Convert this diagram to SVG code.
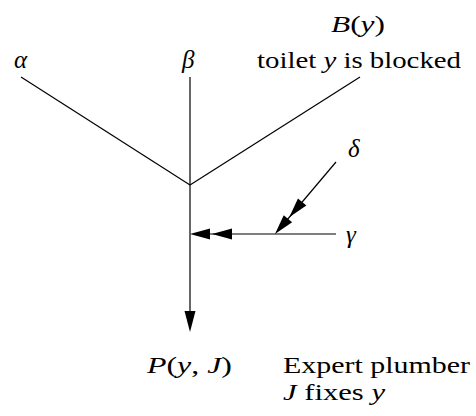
<svg xmlns="http://www.w3.org/2000/svg" width="476" height="416" viewBox="0 0 476 416">
<style>
text{font-family:"Liberation Serif","Times New Roman","DejaVu Serif",serif;font-size:24px;fill:#000}
.i{font-style:italic}
.g{font-size:25px}
.l{stroke:#000;stroke-width:1.2;fill:none}
.h{fill:#000;stroke:none}
</style>
<rect width="476" height="416" fill="#fff"/>
<g id="connectors">
<line class="l" x1="21" y1="77" x2="190" y2="185"/>
<line class="l" x1="360" y1="77" x2="190" y2="185"/>
<line class="l" x1="190" y1="77" x2="190" y2="314"/>
<polygon class="h" points="190,332 184.5,311 195.5,311"/>
<line class="l" x1="336" y1="234" x2="205" y2="234"/>
<polygon class="h" points="190,234 210,228.5 210,239.5"/>
<polygon class="h" points="212,234 232,228.5 232,239.5"/>
<line class="l" x1="336" y1="162" x2="284" y2="223.5"/>
<g transform="translate(275,234) rotate(-49.7)">
<polygon class="h" points="0,0 20,-5.5 20,5.5"/>
<polygon class="h" points="22,0 42,-5.5 42,5.5"/>
</g>
</g>
<g id="alpha"><text class="i g" x="14" y="68">α</text></g>
<g id="beta"><text class="i g" x="182" y="68">β</text></g>
<g id="B"><text x="331" y="32" textLength="54" lengthAdjust="spacingAndGlyphs"><tspan class="i">B</tspan>(<tspan class="i">y</tspan>)</text>
<text x="257" y="68" textLength="204" lengthAdjust="spacingAndGlyphs">toilet <tspan class="i">y</tspan> is blocked</text></g>
<g id="delta"><text class="i g" x="348" y="157">δ</text></g>
<g id="gamma"><text class="i g" x="346" y="243">γ</text></g>
<g id="P"><text x="147" y="373" textLength="85" lengthAdjust="spacingAndGlyphs"><tspan class="i">P</tspan>(<tspan class="i">y</tspan>, <tspan class="i">J</tspan>)</text>
<text x="283" y="373" textLength="187" lengthAdjust="spacingAndGlyphs">Expert plumber</text>
<text x="283" y="400" textLength="102" lengthAdjust="spacingAndGlyphs"><tspan class="i">J</tspan> fixes <tspan class="i">y</tspan></text></g>
</svg>
